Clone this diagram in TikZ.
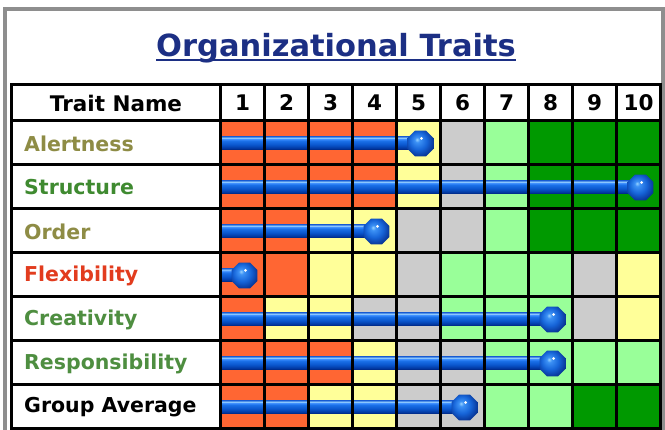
\documentclass[tikz,border=0pt]{standalone}
\usepackage{fontspec}
\setmainfont{DejaVu Sans}
\usetikzlibrary{shapes.geometric}
\definecolor{titleblue}{HTML}{1C2F84}
\definecolor{framegray}{HTML}{8E8E8E}
\definecolor{cO}{HTML}{FF6633} % low
\definecolor{cY}{HTML}{FFFF99}
\definecolor{cG}{HTML}{CCCCCC}
\definecolor{cL}{HTML}{99FF99}
\definecolor{cD}{HTML}{009900} % high
\definecolor{olivetxt}{HTML}{8E8C45}
\definecolor{greentxt}{HTML}{3F8A30}
\definecolor{softgreen}{HTML}{4E8E40}
\definecolor{redtxt}{HTML}{E23C1E}
% tube and knob tones
\definecolor{tubeA}{HTML}{001A66}
\definecolor{tubeB}{HTML}{00339A}
\definecolor{tubeC}{HTML}{0A55CC}
\definecolor{tubeD}{HTML}{1A70E8}
\definecolor{tubeE}{HTML}{3A8CFF}
\definecolor{tubeF}{HTML}{8CC8FF}
\definecolor{tubeG}{HTML}{5090E8}
\definecolor{knA}{HTML}{96D2FF}
\definecolor{knB}{HTML}{3C91F5}
\definecolor{knC}{HTML}{1664D8}
\definecolor{knD}{HTML}{0A3CA0}
\definecolor{knE}{HTML}{04246E}
\pgfdeclareverticalshading{tube}{100bp}{color(0bp)=(tubeA); color(25bp)=(tubeA); color(30bp)=(tubeB); color(45bp)=(tubeC);
    color(60bp)=(tubeD); color(67bp)=(tubeE); color(71bp)=(tubeF); color(75bp)=(tubeG); color(100bp)=(tubeG)}
\pgfdeclareradialshading{knobshade}{\pgfpoint{-7bp}{8bp}}{color(0bp)=(knA); color(5bp)=(knB); color(17bp)=(knC);
    color(27bp)=(knD); color(36bp)=(knE); color(50bp)=(knE)}
\tikzset{
    grid line/.style={line width=3pt, black}, % table rules
    trait/.style={anchor=west, inner sep=0pt, font=\fontsize{20.5}{24}\selectfont\bfseries},
    head/.style={inner sep=0pt, font=\fontsize{21.5}{26}\selectfont\bfseries},
    knob/.style={regular polygon, regular polygon sides=8, minimum size=28pt, inner sep=0pt, shading=knobshade}
}

\begin{document}
\begin{tikzpicture}[x=1pt, y=-1pt]

    \def\cw{44} \def\xl{11} \def\xa{220.5} \def\xr{660.5}
    \def\yh{84.5} \def\ya{120.5} \def\yb{428.5}
    \useasboundingbox (0,0) rectangle (665,430);
    \fill[white] (0,0) rectangle (665,430);
    \draw[framegray, line width=4pt] (5,432) |- (662.5,9.5) -- (662.5,432);

    \node[inner sep=0pt, anchor=base, text=titleblue, font=\fontsize{30.5}{36}\selectfont\bfseries] (title) at (336,57) {Organizational Traits};
    \draw[titleblue, line width=2pt] ([yshift=-3pt]title.base west) -- ([yshift=-3pt]title.base east);

    \foreach \name/\tcol/\cells/\stop [count=\r] in {
        Alertness/olivetxt/{cO,cO,cO,cO,cY,cG,cL,cD,cD,cD}/5,
        Structure/greentxt/{cO,cO,cO,cO,cY,cG,cL,cD,cD,cD}/10,
        Order/olivetxt/{cO,cO,cY,cY,cG,cG,cL,cD,cD,cD}/4,
        Flexibility/redtxt/{cO,cO,cY,cY,cG,cL,cL,cL,cG,cY}/1,
        Creativity/softgreen/{cO,cY,cY,cG,cG,cL,cL,cL,cG,cY}/8,
        Responsibility/softgreen/{cO,cO,cO,cY,cG,cG,cL,cL,cL,cL}/8,
        Group Average/black/{cO,cO,cY,cY,cG,cG,cL,cL,cD,cD}/6} {
        \pgfmathsetmacro\yt{\ya+\cw*(\r-1)}
        \pgfmathsetmacro\yc{\yt+\cw/2+1}
        \foreach \c [count=\k] in \cells {\fill[\c] (\xa+\cw*\k-\cw,\yt) rectangle +(\cw,\cw);}
        \pgfmathsetmacro\kx{\xa+\cw*\stop-\cw/2+2}
        \shade[shading=tube] (\xa+1.5,\yc-6.5) rectangle (\kx,\yc+6.5);
        \node[knob] (knob-\r) at (\kx,\yc) {};
        \fill[white] (\kx+1,\yc-5) circle (1.5);
        \node[trait, text=\tcol] (trait-\r) at (24,\yc) {\name};
    }

    % rules of the table
    \foreach \k in {0,...,10} {\draw[grid line] (\xa+\cw*\k,\yh) -- (\xa+\cw*\k,\yb);}
    \foreach \r in {0,...,7} {\draw[grid line] (\xl,\ya+\cw*\r) -- (\xr,\ya+\cw*\r);}
    \draw[grid line] (\xl,\yh) rectangle (\xr,\yb);

    \node[head] (hdr) at (116,103) {Trait Name};
    \foreach \k in {1,...,10} {\node[head] (num-\k) at (\xa+\cw*\k-\cw/2,103) {\k};}
\end{tikzpicture}
\end{document}
